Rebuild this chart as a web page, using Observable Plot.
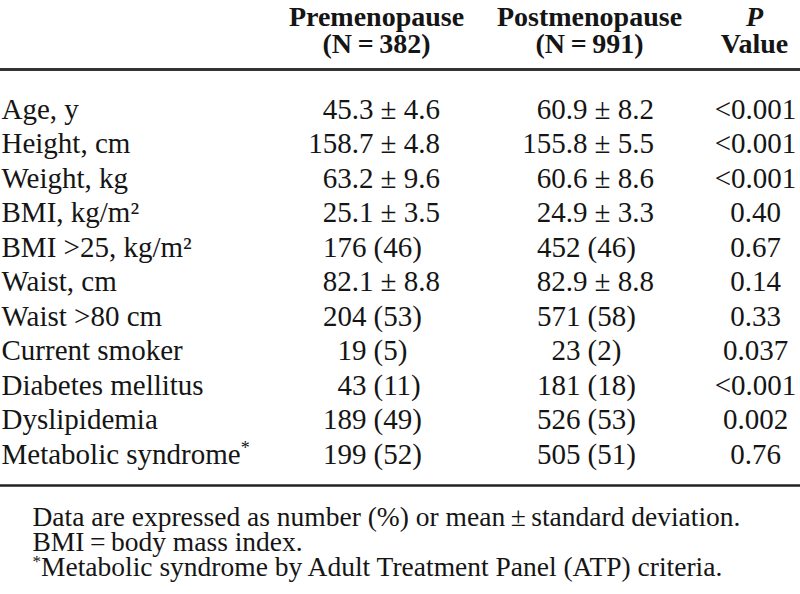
<!DOCTYPE html>
<html>
<head>
<meta charset="utf-8">
<script src="https://cdn.jsdelivr.net/npm/d3@7"></script>
<script src="https://cdn.jsdelivr.net/npm/@observablehq/plot@0.6"></script>
<style>
  html, body { margin: 0; padding: 0; background: #ffffff; }
  #chart { width: 800px; height: 594px; }
</style>
</head>
<body>
<div id="chart"></div>
<script>
// ---------- data ----------
const rowLabels = [
  "Age, y", "Height, cm", "Weight, kg", "BMI, kg/m²", "BMI >25, kg/m²",
  "Waist, cm", "Waist >80 cm", "Current smoker", "Diabetes mellitus",
  "Dyslipidemia", "Metabolic syndrome*"
];
const preValues = [
  "45.3 ± 4.6", "158.7 ± 4.8", "63.2 ± 9.6", "25.1 ± 3.5", "176 (46)",
  "82.1 ± 8.8", "204 (53)", "19 (5)", "43 (11)", "189 (49)", "199 (52)"
];
const postValues = [
  "60.9 ± 8.2", "155.8 ± 5.5", "60.6 ± 8.6", "24.9 ± 3.3", "452 (46)",
  "82.9 ± 8.8", "571 (58)", "23 (2)", "181 (18)", "526 (53)", "505 (51)"
];
const pValues = [
  "<0.001", "<0.001", "<0.001", "0.40", "0.67",
  "0.14", "0.33", "0.037", "<0.001", "0.002", "0.76"
];
const columnKeys = ["pre", "post", "p"];
const headerLine1 = ["Premenopause", "Postmenopause", "P"];
const headerLine2 = ["(N\u2009=\u2009382)", "(N\u2009=\u2009991)", "Value"];
const footnotes = [
  "Data are expressed as number (%) or mean\u2009±\u2009standard deviation.",
  "BMI\u2009=\u2009body mass index.",
  "*Metabolic syndrome by Adult Treatment Panel (ATP) criteria."
];

// ---------- layout ----------
const W = 800, H = 594;
const FONT = "'Liberation Serif', 'Times New Roman', Times, serif";
const FS = 29;
const HFS = 28;
const LABEL_X = 1;
const ROW_BASE = 118, ROW_STEP = 34.5;
const HEAD1_Y = 25, HEAD2_Y = 52;
const TOP_RULE = 69, BOTTOM_RULE = 485;
const FOOT_X = 32, FOOT_BASE = 525, FOOT_STEP = 25, FOOT_FS = 27.5;
const colSplit = {pre: 373, post: 587};       // end of left part for "mean ± sd" cells
const countShift = 7;                           // count cells split a bit to the left
const GAP = 7;
const headerX = {pre: 376, post: 589, p: 754};
const P_X = 755;

const rowY = i => ROW_BASE + i * ROW_STEP;

const rows = rowLabels.map((label, i) => ({label, i, pre: preValues[i], post: postValues[i], p: pValues[i]}));

const pieces = [];
rows.forEach(r => {
  ["pre", "post"].forEach(col => {
    const v = r[col];
    const parts = v.split(" ");
    const isMean = v.includes("±");
    const xEnd = colSplit[col] - (isMean ? 0 : countShift);
    pieces.push({i: r.i, left: parts[0], right: parts.slice(1).join(" "), xEnd});
  });
});

const headers = columnKeys.map((k, j) => ({key: k, l1: headerLine1[j], l2: headerLine2[j]}));
const foot = footnotes.map((t, j) => ({t, j}));

const common = {fontSize: FS, lineAnchor: "bottom", fill: "#151515"};
const head = {...common, fontSize: HFS, textAnchor: "middle", fontWeight: "bold"};

const chart = Plot.plot({
  width: W,
  height: H,
  margin: 0,
  x: {domain: [0, W], range: [0, W], axis: null},
  y: {domain: [0, H], range: [0, H], axis: null},
  style: {fontFamily: FONT, background: "#ffffff", overflow: "visible"},
  marks: [
    // rules
    Plot.ruleY([TOP_RULE], {stroke: "#333", strokeWidth: 3}),
    Plot.ruleY([BOTTOM_RULE], {stroke: "#222", strokeWidth: 2.5}),
    // headers
    Plot.text(headers.filter(d => d.key !== "p"), {...head, x: d => headerX[d.key], y: () => HEAD1_Y, text: "l1"}),
    Plot.text(headers.filter(d => d.key === "p"), {...head, x: d => headerX[d.key], y: () => HEAD1_Y, text: "l1", fontStyle: "italic"}),
    Plot.text(headers, {...head, x: d => headerX[d.key], y: () => HEAD2_Y, text: "l2"}),
    // row labels
    Plot.text(rows, {...common, x: () => LABEL_X, y: d => rowY(d.i), text: "label", textAnchor: "start"}),
    // value columns
    Plot.text(pieces, {...common, x: d => d.xEnd, y: d => rowY(d.i), text: "left", textAnchor: "end"}),
    Plot.text(pieces, {...common, x: d => d.xEnd + GAP, y: d => rowY(d.i), text: "right", textAnchor: "start"}),
    Plot.text(rows, {...common, x: () => P_X, y: d => rowY(d.i), text: "p", textAnchor: "middle"}),
    // footnotes
    Plot.text(foot, {...common, fontSize: FOOT_FS, x: () => FOOT_X, y: d => FOOT_BASE + d.j * FOOT_STEP, text: "t", textAnchor: "start"})
  ]
});

// superscript asterisks
const NS = "http://www.w3.org/2000/svg";
chart.querySelectorAll("text").forEach(t => {
  const s = t.textContent;
  if (!s || !s.includes("*")) return;
  const parts = s.split("*");
  while (t.firstChild) t.removeChild(t.firstChild);
  parts.forEach((p, k) => {
    if (k > 0) {
      const ts = document.createElementNS(NS, "tspan");
      ts.setAttribute("font-size", "0.62em");
      ts.setAttribute("baseline-shift", "super");
      ts.textContent = "*";
      t.appendChild(ts);
    }
    if (p) {
      const tn = document.createElementNS(NS, "tspan");
      tn.textContent = p;
      t.appendChild(tn);
    }
  });
});

document.getElementById("chart").appendChild(chart);
</script>
</body>
</html>
